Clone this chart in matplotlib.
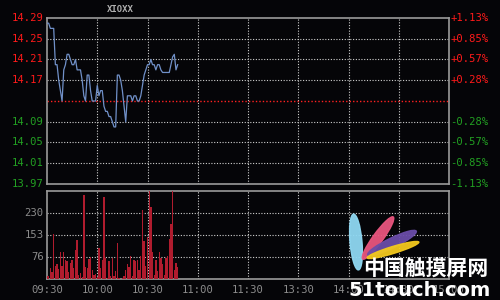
import matplotlib
matplotlib.use("Agg")
import matplotlib.pyplot as plt
from matplotlib.patches import Ellipse

# minute-by-minute price, from 09:30
price = [14.28, 14.28, 14.27, 14.27, 14.27, 14.20, 14.20, 14.17, 14.15, 14.13,
         14.19, 14.20, 14.22, 14.22, 14.21, 14.20, 14.20, 14.21, 14.19, 14.19,
         14.19, 14.17, 14.14, 14.13, 14.18, 14.18, 14.15, 14.13, 14.13, 14.13,
         14.16, 14.14, 14.15, 14.15, 14.12, 14.11, 14.11, 14.10, 14.10, 14.09,
         14.08, 14.08, 14.18, 14.18, 14.17, 14.15, 14.12, 14.09, 14.14, 14.14,
         14.14, 14.13, 14.14, 14.14, 14.13, 14.13, 14.14, 14.16, 14.18, 14.19,
         14.20, 14.20, 14.21, 14.20, 14.20, 14.19, 14.20, 14.20, 14.19, 14.185,
         14.185, 14.185, 14.185, 14.185, 14.20, 14.215, 14.22, 14.19, 14.20]

volume = [11, 11, 38, 24, 157, 46, 53, 36, 95, 46,
          95, 66, 64, 25, 57, 66, 39, 100, 137, 15,
          22, 8, 293, 42, 37, 68, 78, 30, 13, 16,
          8, 109, 39, 65, 286, 74, 5, 62, 9, 72,
          9, 28, 127, 5, 0, 5, 12, 30, 52, 42,
          80, 9, 65, 64, 67, 30, 79, 241, 133, 46,
          148, 307, 252, 93, 15, 67, 28, 93, 74, 52,
          15, 74, 79, 141, 190, 307, 32, 57, 43]

pre_close = 14.13
price_ticks = [14.29, 14.25, 14.21, 14.17, 14.09, 14.05, 14.01, 13.97]
pct_labels = ['+1.13%', '+0.85%', '+0.57%', '+0.28%',
              '-0.28%', '-0.57%', '-0.85%', '-1.13%']
vol_ticks = [76.67, 153.33, 230.0]
vol_labels = ['76', '153', '230']
time_pos = [0, 30, 60, 90, 120, 150, 180, 210, 240]
time_labels = ['09:30', '10:00', '10:30', '11:00', '11:30',
               '13:30', '14:00', '14:30', '15:00']

bg = '#050508'
frame = '#9a9a9a'
gridc = '#cfcfcf'
red = '#ff1a1a'
green = '#22a022'
mono = 'DejaVu Sans Mono'

fig = plt.figure(figsize=(5, 3), dpi=100, facecolor=bg)
ax = fig.add_axes([0.094, 0.3867, 0.804, 0.5533], facecolor=bg)
axv = fig.add_axes([0.094, 0.07, 0.804, 0.2933], facecolor=bg)

for a in (ax, axv):
    for s in a.spines.values():
        s.set_color(frame)
        s.set_linewidth(1.2)
    a.set_xlim(0, 240)
    a.set_xticks([])
    a.set_yticks([])
    for t in time_pos[1:-1]:
        a.axvline(t, color=gridc, lw=0.8, ls=(0, (1, 1.5)), zorder=1)

# price panel
ax.set_ylim(13.97, 14.29)
for p in price_ticks[1:-1]:
    ax.axhline(p, color=gridc, lw=0.8, ls=(0, (1, 1.5)), zorder=1)
ax.axhline(pre_close, color='#ff2020', lw=1.0, ls=(0, (1, 1.5)), zorder=1)
ax.plot(range(len(price)), price, color='#7090c8', lw=0.9, zorder=3)

for p, lab in zip(price_ticks, pct_labels):
    c = red if p > pre_close else green
    ax.text(-0.008, p, f'{p:.2f}', transform=ax.get_yaxis_transform(),
            ha='right', va='center', color=c, fontsize=7.6, family=mono)
    ax.text(1.004, p, lab, transform=ax.get_yaxis_transform(),
            ha='left', va='center', color=c, fontsize=7.6, family=mono)

# volume panel
axv.set_ylim(0, 306.67)
for v in vol_ticks:
    axv.axhline(v, color=gridc, lw=0.8, ls=(0, (1, 1.5)), zorder=1)
axv.bar(range(len(volume)), volume, width=0.8, color='#b01c2e',
        linewidth=0, antialiased=False, zorder=3)
for v, lab in zip(vol_ticks, vol_labels):
    axv.text(-0.008, v, lab, transform=axv.get_yaxis_transform(),
             ha='right', va='center', color='#8c8c8c', fontsize=7.6, family=mono)
for t, lab in zip(time_pos, time_labels):
    axv.text(t, -0.13, lab, transform=axv.get_xaxis_transform(),
             ha='center', va='center', color='#8c8c8c', fontsize=7.6, family=mono)

fig.text(0.24, 0.968, 'XIOXX', color='#b0b0b0', fontsize=6.5, family=mono,
         ha='center', va='center', fontweight='bold')

# watermark logo, drawn in a pixel-space overlay
wm = fig.add_axes([0, 0, 1, 1], facecolor='none')
wm.set_xlim(0, 500)
wm.set_ylim(0, 300)
wm.axis('off')
for (cx, cy, ln, wd, ang, col) in [(356, 58, 56, 12, 95, '#8fd8f2'),
                                   (378, 62, 52, 10, 54, '#e8557e'),
                                   (392, 57, 54, 10, 26, '#6a4ca8'),
                                   (393, 50, 54, 7, 17, '#f2c81e')]:
    wm.add_patch(Ellipse((cx, cy), ln, wd, angle=ang, color=col, alpha=0.95))
wm.text(426, 31, '中国触摸屏网', color='white', fontsize=15,
        family=['Noto Sans CJK SC', 'DejaVu Sans'], ha='center', va='center',
        fontweight='bold')
wm.text(420, 10, '51touch.com', color='white', fontsize=14,
        family='DejaVu Sans', ha='center', va='center', fontweight='bold')

fig.savefig('out.png', dpi=100, facecolor=bg)
